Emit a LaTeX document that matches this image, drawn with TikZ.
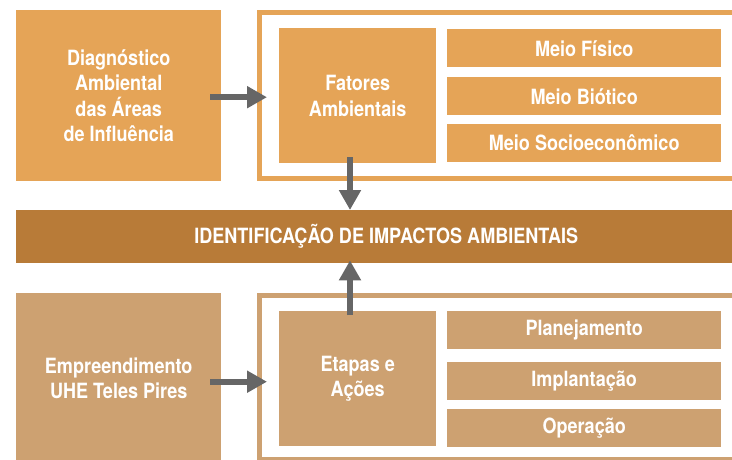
\documentclass[tikz,border=0pt]{standalone}
\usepackage{fontspec}
\setmainfont{TeX Gyre Heros}[FakeStretch=0.86]
\usepackage{tikz}
\usetikzlibrary{arrows.meta}
\definecolor{laranja}{HTML}{E5A457}
\definecolor{bronze}{HTML}{B87B38}
\definecolor{areia}{HTML}{CDA171}
\definecolor{seta}{HTML}{666666}
\tikzset{
  caixa/.style={inner sep=0pt, anchor=north west, text=white, align=center,
    font=\fontsize{21}{25.5}\selectfont\bfseries},
  moldura/.style={draw, line width=5pt, inner sep=0pt, anchor=north west},
  fluxo/.style={draw=seta, line width=6pt, -{Triangle[length=20pt,width=21pt]}}
}
\begin{document}
\begin{tikzpicture}[x=1pt,y=-1pt]
    \useasboundingbox (0,0) rectangle (732,460);
    \clip (0,0) rectangle (732,460);
    \node[caixa, fill=laranja, minimum width=205, minimum height=171] (diag) at (16,10)
      {Diagnóstico\\Ambiental\\das Áreas\\de Influência};
    \node[moldura, draw=laranja, minimum width=520, minimum height=166] (molduraA) at (257,10) {};
    \node[caixa, fill=laranja, minimum width=157, minimum height=135] (fatores) at (279,28)
      {Fatores\\Ambientais};
    \foreach \y/\t/\n in {29/Meio Físico/fisico, 77/Meio Biótico/biotico, 124/Meio Socioeconômico/socio}
      \node[caixa, fill=laranja, minimum width=274, minimum height=38] (\n) at (447,\y) {\t};
    \node[caixa, fill=bronze, minimum width=740, minimum height=53] (impactos) at (16,210)
      {IDENTIFICAÇÃO DE IMPACTOS AMBIENTAIS};
    \node[caixa, fill=areia, minimum width=205, minimum height=170] (empre) at (16,293)
      {Empreendimento\\UHE Teles Pires};
    \node[moldura, draw=areia, minimum width=520, minimum height=164] (molduraB) at (257,293) {};
    \node[caixa, fill=areia, minimum width=157, minimum height=135] (etapas) at (279,311)
      {Etapas e\\Ações};
    \foreach \y/\t/\n in {311/Planejamento/plan, 362/Implantação/impl, 409/Operação/oper}
      \node[caixa, fill=areia, minimum width=274, minimum height=38] (\n) at (447,\y) {\t};
    \draw[fluxo] ([xshift=-11pt,yshift=-1.5pt]diag.east) -- ([xshift=10pt,yshift=-1.5pt]diag.east -| molduraA.west);
    \draw[fluxo] ([xshift=-11pt,yshift=-3.5pt]empre.east) -- ([xshift=10pt,yshift=-3.5pt]empre.east -| molduraB.west);
    \draw[fluxo] ([yshift=6pt]fatores.south -| 350,0) -- (impactos.north -| 350,0);
    \draw[fluxo] ([yshift=-4pt]etapas.north -| 350,0) -- ([yshift=3pt]impactos.south -| 350,0);
  \end{tikzpicture}
\end{document}
